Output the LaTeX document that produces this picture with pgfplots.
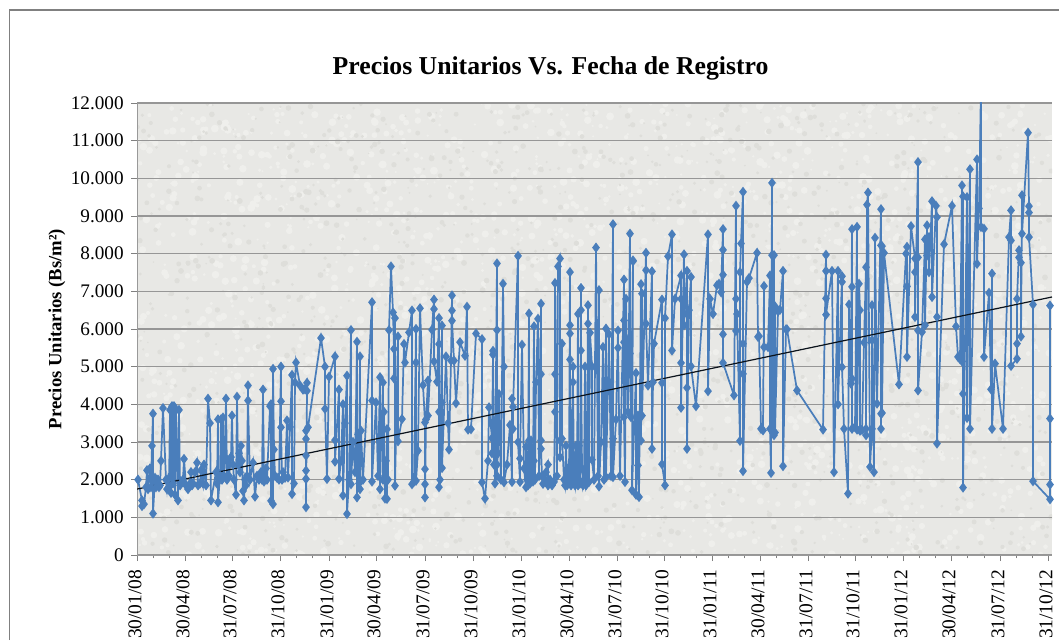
\documentclass[border=0pt]{standalone}
\usepackage{pgfplots}
\pgfplotsset{compat=1.18}
\usepackage{fontspec}
\setmainfont{Liberation Serif}
\definecolor{serie}{HTML}{4A7EBB}
\definecolor{fondo}{HTML}{E8E8E5}
\definecolor{claro}{HTML}{EFEFEC}
\definecolor{oscuro}{HTML}{DEDEDA}
\definecolor{rejilla}{HTML}{969696}
\begin{document}
\begin{tikzpicture}
\useasboundingbox (0,0) rectangle (794.25pt,480pt);
\clip (0,0) rectangle (794.25pt,480pt);
\draw[color=black!50,line width=0.8pt] (7pt,0) -- (7pt,472.5pt) -- (794.25pt,472.5pt);
% paper-like mottled backdrop of the plot area (decoration only)
\begin{scope}
\clip (102.75pt,63.75pt) rectangle (789pt,402.75pt);
\fill[fondo] (102.75pt,63.75pt) rectangle (789pt,402.75pt);
\pgfmathsetseed{4711}
\foreach \i in {1,...,2200}{
  \pgfmathsetmacro{\px}{102.75+686.25*rnd}
  \pgfmathsetmacro{\py}{63.75+339*rnd}
  \pgfmathsetmacro{\pr}{0.8+2.2*rnd}
  \fill[claro] (\px pt,\py pt) circle (\pr pt);
}
\foreach \i in {1,...,1500}{
  \pgfmathsetmacro{\px}{102.75+686.25*rnd}
  \pgfmathsetmacro{\py}{63.75+339*rnd}
  \pgfmathsetmacro{\pr}{0.6+1.6*rnd}
  \fill[oscuro] (\px pt,\py pt) circle (\pr pt);
}
\end{scope}
\begin{axis}[
  at={(102.75pt,63.75pt)},anchor=south west,
  scale only axis,width=686.25pt,height=339pt,
  xmin=137,xmax=1052,ymin=0,ymax=12000,
  scaled y ticks=false,
  axis line style={color=black!40,line width=0.7pt},
  axis x line*=bottom,axis y line*=left,
  axis line style={-},
  ytick={0,1000,...,12000},
  yticklabels={0,1.000,2.000,3.000,4.000,5.000,6.000,7.000,8.000,9.000,10.000,11.000,12.000},
  xtick={137,185,232,280,329,376,425,473,521,569,617,664,712,760,808,855,903,951,1000,1048},
  xticklabels={30/01/08,30/04/08,31/07/08,31/10/08,31/01/09,30/04/09,31/07/09,31/10/09,31/01/10,30/04/10,31/07/10,31/10/10,31/01/11,30/04/11,31/07/11,31/10/11,31/01/12,30/04/12,31/07/12,31/10/12},
  minor xtick={153,169,201,217,248,264,296,312,345,361,392,409,441,457,489,505,537,553,585,601,633,649,680,696,728,744,776,792,824,840,871,887,919,935,967,984,1016,1032},
  x tick label style={rotate=90,anchor=east,font=\fontsize{14.6pt}{15pt}\selectfont,xshift=-3pt,yshift=1.5pt},
  y tick label style={font=\fontsize{14.4pt}{15pt}\selectfont,xshift=-2pt},
  tick style={color=black!50,line width=0.6pt},
  major tick length=4.5pt,minor tick length=2.5pt,
  tick align=outside,
  ymajorgrids,
  major grid style={color=rejilla,line width=0.8pt},
  title={\textbf{Precios Unitarios Vs. Fecha de Registro}},
  title style={at={(axis description cs:0.452,1.058)},anchor=center,font=\fontsize{19.3pt}{21pt}\selectfont},
  ylabel={\textbf{Precios Unitarios (Bs/m²)}},
  ylabel style={at={(axis description cs:-0.0875,0.5)},anchor=center,font=\fontsize{14pt}{16pt}\selectfont},
]
\addplot[color=serie,line width=1.3pt,mark=diamond*,mark size=2.8pt,mark options={fill=serie,solid}] coordinates {
(138,2000)(142,1450)(142,1300)(144,1350)(146,1800)(147,2250)(148,1750)(150,2300)(151,1800)(152,2900)(153,3750)(153,1100)(155,2050)(156,1800)(158,2000)(159,1800)(160,1850)(161,2500)(163,3900)(166,2000)(167,1750)(168,2000)(169,1800)(170,3850)(171,1650)(172,3950)(173,1900)(174,3950)(175,1600)(176,3850)(178,1450)(179,3850)(180,1850)(181,1900)(183,2000)(184,2550)(186,1850)(188,1750)(190,1900)(191,2200)(192,1850)(193,1900)(195,2200)(197,2450)(198,1850)(200,1900)(201,2250)(203,1900)(204,2400)(206,1850)(208,4150)(210,3500)(211,1450)
(216,2200)(217,1900)(218,3600)(218,1400)(220,2100)(221,3600)(222,2000)(223,3650)(224,2100)(225,2600)(226,4150)(227,2000)(228,2500)(229,2100)(231,2600)(232,3700)(233,2400)(234,2000)(236,1600)(237,4200)(238,2400)(239,2700)(240,2200)(241,2900)(242,2500)(243,1700)(244,1450)(245,2000)(246,1850)(247,2100)(248,4500)(248,4100)(250,2000)(253,2450)(255,1550)(257,2100)(259,2000)(261,2200)(262,2000)(263,4390)(264,1950)(266,2300)(267,2000)(270,3950)(271,4000)(271,1440)(273,1350)(273,4940)(274,2800)(275,2100)(277,2050)(279,2000)(281,5000)(281,4080)(281,3390)(282,2000)(283,2200)(285,2050)(287,3570)(288,2060)(290,3400)(292,4780)(292,1620)(294,1900)(295,4580)(296,5110)(300,4500)(303,4390)(305,4400)(307,4570)(307,4360)(306,1270)(306,2020)(306,2240)(306,2640)(306,3080)(306,3300)(308,3390)(321,5760)(325,5000)(325,3880)(327,2020)(329,4730)(335,5270)(335,3050)(335,2480)(339,4390)(339,2020)(341,2500)(343,4000)(343,1580)(345,3500)(347,4760)(347,1090)(349,2000)(351,5970)(351,1880)(353,3000)(355,2200)(357,5660)(357,1530)(358,3200)(359,1900)(360,5270)(360,1750)(361,3300)(363,2000)(372,6710)(372,4100)(372,1950)(376,4050)(378,2100)(380,4720)(380,1750)(381,2900)(383,4580)(383,2000)(384,3800)(385,1500)(386,2500)(387,1490)(387,3340)(388,2000)(389,5970)(391,7660)(393,6440)(394,5470)(394,4690)(395,6290)(395,1840)(398,5800)(398,3020)(402,3610)(404,5600)(405,5110)(409,5910)(412,6490)(412,1880)(414,1950)(416,6000)(416,5110)(416,1970)(418,2770)(420,6550)(423,4510)(425,3520)(425,2280)(425,1880)(425,1530)(426,3600)(428,4630)(428,3700)(432,5980)(434,6780)(434,6530)(434,5140)(437,4600)(439,6290)(439,5600)(439,3800)(439,1800)(440,2000)(442,6090)(442,4050)(442,2310)(446,5270)(448,3500)(449,2800)(451,5160)(452,6890)(452,6490)(452,6220)(454,5160)(456,4030)(460,5650)(465,5290)(467,6590)(468,3330)(471,3340)(476,5880)(482,5730)(482,1930)(485,1500)(488,2500)(489,3920)(492,3100)(492,2700)(493,5420)(493,5320)(494,2400)(495,3000)(495,1900)(497,7740)(497,5970)(497,2100)(497,2400)(498,2700)(499,4270)(501,2000)(503,7200)(504,5000)(504,1930)
(507,2400)(510,3450)(512,1940)(512,4150)(513,3350)(513,3930)(518,7940)(518,3000)(520,1940)(520,2560)(522,5580)(524,2300)(526,1800)(526,2870)(527,2000)(528,1850)(529,6410)(529,3040)(530,1900)(531,2100)(531,3040)(532,2400)(533,1950)(534,6070)(534,2500)(535,2000)(536,4590)(538,6270)(539,2100)(541,6670)(541,4800)(541,3040)(541,2820)(542,2100)(543,1890)(545,2000)(546,2200)(548,2400)(548,1850)(550,2000)(552,1850)(554,1940)(555,3800)(555,4800)(555,7220)(557,2100)(558,7660)(560,7870)(560,3040)(560,2600)(562,5610)(562,3090)(564,2000)(565,1850)(566,2900)(567,1850)(568,2300)(569,1950)(570,7510)(570,6100)(570,5880)(570,5190)(571,1850)(572,2100)(573,5000)(573,4590)(574,2000)(575,1850)(576,2900)(577,1950)(578,6400)(578,1850)(579,2900)(580,1900)(581,7090)(581,6500)(581,5430)(582,2300)(583,1850)(584,2000)(585,5000)(586,1850)(587,1950)(588,6630)(588,6140)(589,1940)(590,5900)(592,5000)(592,2530)(594,2000)(596,8160)(598,2100)(599,7030)(599,1820)(601,3000)(603,5520)(604,2000)(606,6010)(606,2070)(609,5860)(611,2100)(613,8780)(613,3090)(613,2070)(616,3600)(618,5960)(618,5500)(620,2100)(624,7310)(624,6230)(624,5650)(624,3660)(625,1940)(626,6800)(628,3800)(630,8530)(630,5350)(631,3660)(633,7820)(633,7800)(632,1720)(636,4830)(636,1600)(638,3700)(638,2380)(639,1540)(641,7190)(641,3040)(642,6940)(642,3700)(646,8020)(646,7560)(646,6140)(648,4500)(652,7530)(652,2820)(653,4590)(654,5610)(662,6780)(662,4570)(662,2410)(665,1850)(665,6290)(668,7930)(672,8510)(672,5430)(675,6800)(681,7420)(681,6800)(681,5100)(681,3910)(684,7980)(684,6400)(684,6100)(687,7540)(687,4440)(687,2820)(689,6500)(691,7380)(691,5010)(696,3950)(708,8510)(708,4350)(710,6800)(713,6400)(717,7160)(719,7200)(721,6980)(723,8650)(723,8100)(723,7440)(723,5860)(723,5100)(734,4240)(736,9270)(736,6800)(736,5950)(737,6400)(740,3030)(740,7510)(741,8270)(743,9640)(743,5610)(743,4810)(743,2230)(747,7250)(749,7350)(757,8020)(758,5790)
(759,5810)(761,3350)(763,3310)(764,7140)(764,5520)(768,5520)(770,7420)(770,3350)(771,2180)(772,9880)(772,7960)(772,3400)(773,6500)(773,3300)(774,7960)(774,3180)(775,6600)(775,3250)(778,6470)(780,6510)(783,7540)(783,2360)(786,5990)(787,5990)(797,4370)(823,3330)(826,7970)(826,7540)(826,6810)(826,6380)(832,7540)(834,2200)(838,7540)(838,4000)(842,7400)(842,7250)(842,4990)(844,3350)(848,1630)(849,6650)(851,4550)(852,8650)(852,7120)(852,4680)(852,3350)(855,3400)(857,8710)(857,3330)(859,7200)(860,6500)(860,3300)(862,3320)(864,5640)(866,7640)(866,3180)(866,3350)(867,9300)(868,9620)(870,2340)(872,3350)(872,6630)(872,5700)(874,2200)(875,8420)(877,4020)(881,9180)(881,8220)(881,3350)(881,3750)(882,8200)(882,3770)(884,8020)(899,4530)(906,8000)(907,8180)(907,7130)(907,5260)(911,8730)(915,7870)(915,7510)(915,6320)(918,10430)(918,5960)(918,7900)(918,4370)(922,5920)(925,8380)(925,6100)(927,8750)(927,7950)(929,8440)(929,7510)(932,9390)(932,6850)(936,9270)(937,8970)(937,6320)(937,2960)(944,8250)(952,9270)(956,6070)(958,5260)(960,5200)(962,9810)(962,5140)(963,9520)(963,4280)(963,1790)(967,9500)(967,3640)(970,10240)(970,3350)(977,10500)(977,7730)(979,9200)(981,12500)(981,8710)(984,8660)(984,5260)(989,6960)(991,4400)(992,7470)(992,3350)(995,5080)(1003,3350)(1009,8440)(1011,9150)(1011,8350)(1011,5020)(1017,5210)(1017,5610)(1017,6800)(1019,8090)(1019,7900)(1021,7760)(1021,5800)(1022,9550)(1022,8530)(1028,11210)(1029,9260)(1029,9090)(1029,8440)(1033,6650)(1033,1960)(1050,1480)(1050,1870)(1050,3620)(1050,6620)
};
\addplot[color=black!85!serie,line width=0.9pt,no marks] coordinates {(137,1750)(1052,6850)};
\end{axis}
\end{tikzpicture}
\end{document}
